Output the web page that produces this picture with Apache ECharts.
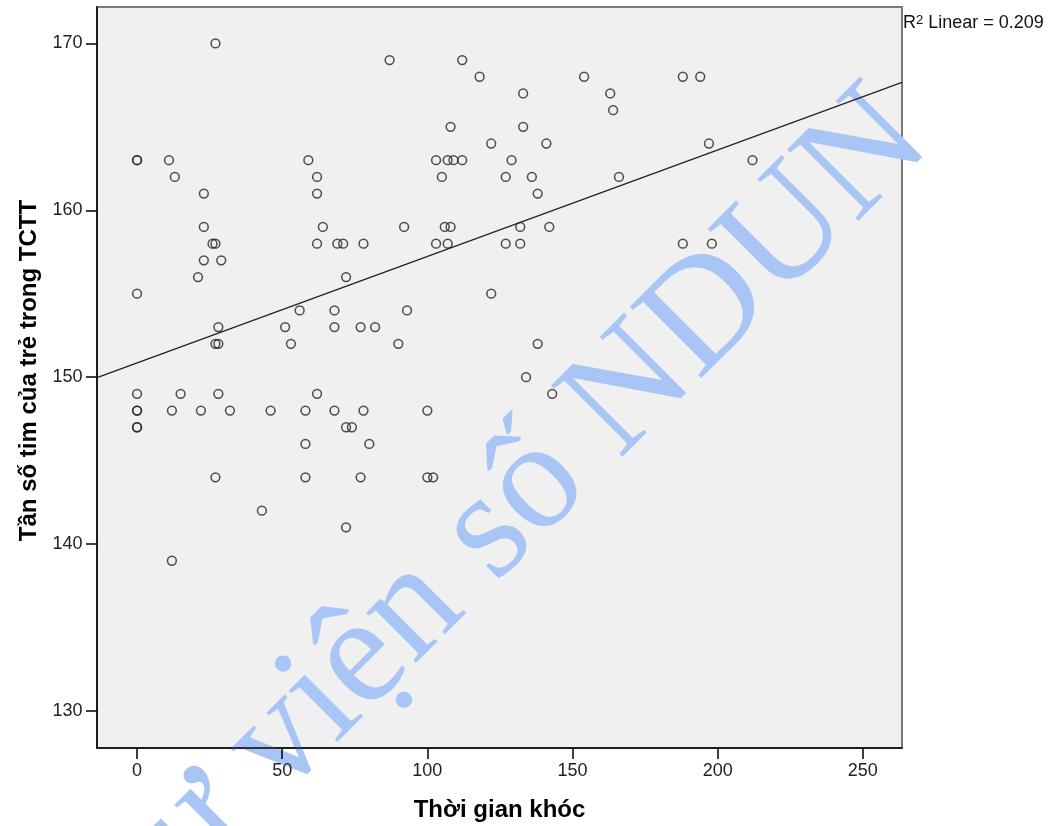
<!DOCTYPE html>
<html>
<head>
<meta charset="utf-8">
<script src="https://cdn.jsdelivr.net/npm/echarts@6/dist/echarts.min.js"></script>
<style>
  html, body { margin: 0; padding: 0; background: #ffffff; }
  #chart { width: 1052px; height: 826px; }
</style>
</head>
<body>
<div id="chart"></div>
<script>
// Crying time (x) and heart rate (y) for each child
const cryingTime = [
  0, 0, 0, 0, 0, 0, 0, 0,
  11, 13, 27, 23, 23, 26, 27, 23, 29, 21, 28, 27, 28, 15, 28, 12, 22, 32, 27, 12,
  43, 46, 51, 53, 56, 59, 62, 62, 64, 62, 69, 71, 78, 72, 68, 68, 77, 82, 62, 58, 68, 78, 72, 74, 58, 80, 58, 77, 72,
  87, 90, 92, 93, 100, 100, 102, 103, 105, 103, 106, 108, 107, 107, 109, 108, 112, 112, 118,
  122, 122, 127, 127, 129, 132, 132, 133, 133, 134, 136, 138, 138, 141, 142, 143,
  154, 163, 164, 166, 188, 194, 188, 198, 197, 212
];
const heartRate = [
  163, 163, 155, 149, 148, 148, 147, 147,
  163, 162, 170, 161, 159, 158, 158, 157, 157, 156, 153, 152, 152, 149, 149, 148, 148, 148, 144, 139,
  142, 148, 153, 152, 154, 163, 162, 161, 159, 158, 158, 158, 158, 156, 154, 153, 153, 153, 149, 148, 148, 148, 147, 147, 146, 146, 144, 144, 141,
  169, 152, 159, 154, 148, 144, 144, 163, 162, 158, 159, 159, 158, 163, 163, 165, 163, 169, 168,
  164, 155, 162, 158, 163, 159, 158, 165, 167, 150, 162, 161, 152, 164, 159, 149,
  168, 167, 166, 162, 168, 168, 158, 158, 164, 163
];
// Axis tick labels
const xTicks = [0, 50, 100, 150, 200, 250];
const yTicks = [130, 140, 150, 160, 170];
// Fit line
const fitIntercept = 150.85;
const fitSlope = 0.0638;
const rSquared = '0.209';
const xMin = -13.8, xMax = 263.5;
const yMin = 127.78, yMax = 172.18;

const points = cryingTime.map((x, i) => [x, heartRate[i]]);
const fitLine = [[xMin, fitIntercept + fitSlope * xMin], [xMax, fitIntercept + fitSlope * xMax]];

const chart = echarts.init(document.getElementById('chart'), null, { renderer: 'canvas' });
const labelFont = 'Liberation Sans, Arial, sans-serif';

chart.setOption({
  animation: false,
  backgroundColor: '#ffffff',
  grid: {
    left: 97, right: 150, top: 7, bottom: 78,
    containLabel: false, outerBoundsMode: 'none',
    show: true, backgroundColor: '#f0f0f0', borderColor: '#7a7a7a', borderWidth: 2
  },
  xAxis: {
    type: 'value', min: xMin, max: xMax, z: 3,
    name: 'Thời gian khóc', nameLocation: 'middle', nameGap: 50,
    nameTextStyle: { fontSize: 24, fontWeight: 'bold', color: '#000', fontFamily: labelFont },
    axisLine: { show: true, onZero: false, lineStyle: { color: '#000', width: 1.5 } },
    axisTick: { show: true, length: 11, customValues: xTicks, lineStyle: { color: '#000', width: 1.5 } },
    axisLabel: { customValues: xTicks, margin: 14, fontSize: 18, color: '#222', fontFamily: labelFont },
    splitLine: { show: false }
  },
  yAxis: {
    type: 'value', min: yMin, max: yMax, z: 3,
    name: 'Tần số tim của trẻ trong TCTT', nameLocation: 'middle', nameGap: 56, nameRotate: 90,
    nameTextStyle: { fontSize: 24, fontWeight: 'bold', color: '#000', fontFamily: labelFont, padding: [0, 0, 0, 14] },
    axisLine: { show: true, onZero: false, lineStyle: { color: '#000', width: 1.5 } },
    axisTick: { show: true, length: 11, customValues: yTicks, lineStyle: { color: '#000', width: 1.5 } },
    axisLabel: { customValues: yTicks, margin: 14.5, fontSize: 18, color: '#222', fontFamily: labelFont },
    splitLine: { show: false }
  },
  graphic: [
    {
      type: 'text', x: 475, y: 547, rotation: Math.PI / 4, z: 1, silent: true,
      style: {
        text: 'Thư viện số NDUN', x: 0, y: 0,
        fontSize: 154, fontFamily: 'Liberation Serif, Times New Roman, serif',
        fill: '#a9c5f5', align: 'center', verticalAlign: 'middle',
        textAlign: 'center', textVerticalAlign: 'middle'
      }
    },
    {
      type: 'text', x: 903, y: 14, z: 5, silent: true,
      style: {
        text: '{r|R}{s|2}{r| Linear = ' + rSquared + '}', x: 0, y: 0,
        align: 'left', verticalAlign: 'top', textAlign: 'left', textVerticalAlign: 'top',
        rich: {
          r: { fontSize: 18, fontFamily: labelFont, fill: '#111', color: '#111', lineHeight: 18 },
          s: { fontSize: 13, fontFamily: labelFont, fill: '#111', color: '#111', verticalAlign: 'top', lineHeight: 13 }
        }
      }
    }
  ],
  series: [
    {
      type: 'line', data: fitLine, symbol: 'none', silent: true, z: 3,
      lineStyle: { color: '#222', width: 1.3 }
    },
    {
      type: 'scatter', data: points, symbol: 'circle', symbolSize: 8.8, silent: true, z: 4,
      itemStyle: { color: 'rgba(0,0,0,0)', borderColor: '#222', borderWidth: 1.5 }
    }
  ]
});
</script>
</body>
</html>
